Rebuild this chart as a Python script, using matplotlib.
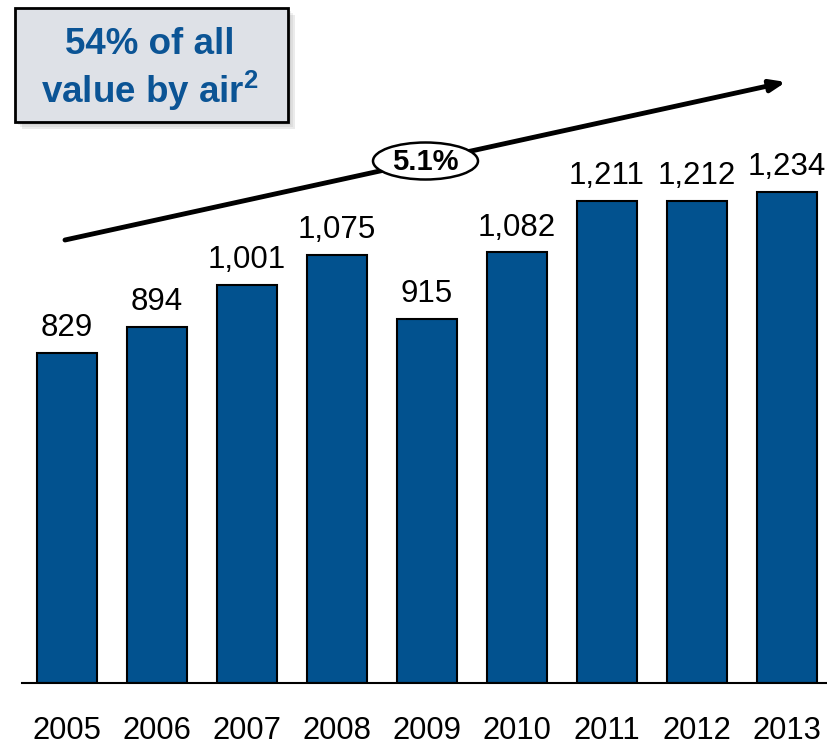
import matplotlib
matplotlib.use("Agg")
import matplotlib.pyplot as plt
from matplotlib.patches import Rectangle, Ellipse

years = ["2005", "2006", "2007", "2008", "2009", "2010", "2011", "2012", "2013"]
values = [829, 894, 1001, 1075, 915, 1082, 1211, 1212, 1234]
value_labels = ["829", "894", "1,001", "1,075", "915", "1,082", "1,211", "1,212", "1,234"]
cagr_label = "5.1%"
box_lines = ["54% of all", "value by air$^{\\mathbf{2}}$"]

plt.rcParams['font.family'] = ['Liberation Sans', 'DejaVu Sans']
plt.rcParams['mathtext.fontset'] = 'custom'
plt.rcParams['mathtext.rm'] = 'Liberation Sans'
plt.rcParams['mathtext.bf'] = 'Liberation Sans:bold'

W, H = 827, 746
fig = plt.figure(figsize=(W / 100, H / 100), dpi=100)
base_px = 683
ax = fig.add_axes([22 / W, (H - base_px) / H, 805 / W, base_px / H])
bar_color = "#02528F"
x = list(range(len(years)))
ax.bar(x, values, width=0.667, color=bar_color, edgecolor="black", linewidth=1.5, zorder=2)
ax.set_xlim(-0.5, 8.444)
ax.set_ylim(0, base_px / 0.398)
for s in ["top", "right", "left"]:
    ax.spines[s].set_visible(False)
ax.spines["bottom"].set_linewidth(1.5)
ax.set_yticks([])
ax.set_xticks(x)
ax.set_xticklabels(years, fontsize=22.3)
ax.tick_params(axis="x", length=0, pad=23.5)
for xi, v, lab in zip(x, values, value_labels):
    ax.annotate(lab, (xi, v), xytext=(0, 7), textcoords="offset points",
                ha="center", va="bottom", fontsize=22.5)

# trend arrow
def fx(px):
    return px / W
def fy(py):
    return 1 - py / H

ax.annotate("", xy=(fx(786), fy(82)), xytext=(fx(65), fy(240)),
            xycoords="figure fraction", textcoords="figure fraction",
            arrowprops=dict(arrowstyle="-|>,head_length=0.9,head_width=0.35",
                            color="black", lw=3.5, shrinkA=0, shrinkB=0), zorder=3)
ell = Ellipse((fx(425.5), fy(161)), 105 / W, 37 / H, transform=fig.transFigure,
              facecolor="white", edgecolor="black", lw=1.8, zorder=4)
fig.add_artist(ell)
fig.text(fx(425.5), fy(162), cagr_label, ha="center", va="center", fontsize=21,
         fontweight="bold", zorder=5)

# callout box with shadow
for i, a in enumerate([0.12, 0.12, 0.15]):
    off = 3 + i * 2
    fig.add_artist(Rectangle((fx(15 + off), fy(122 + off)), 273 / W, 114 / H,
                             transform=fig.transFigure, facecolor="#7f7f7f",
                             edgecolor="none", alpha=a, zorder=1))
fig.add_artist(Rectangle((fx(15), fy(122)), 273 / W, 114 / H, transform=fig.transFigure,
                         facecolor="#DEE1E7", edgecolor="black", lw=2, zorder=2))
fig.text(fx(150), fy(45), box_lines[0], ha="center", va="center", fontsize=26.5,
         fontweight="bold", color="#0B5495", zorder=3)
fig.text(fx(150), fy(91), box_lines[1], ha="center", va="center", fontsize=26.5,
         fontweight="bold", color="#0B5495", zorder=3)

fig.savefig("out.png", dpi=100)
